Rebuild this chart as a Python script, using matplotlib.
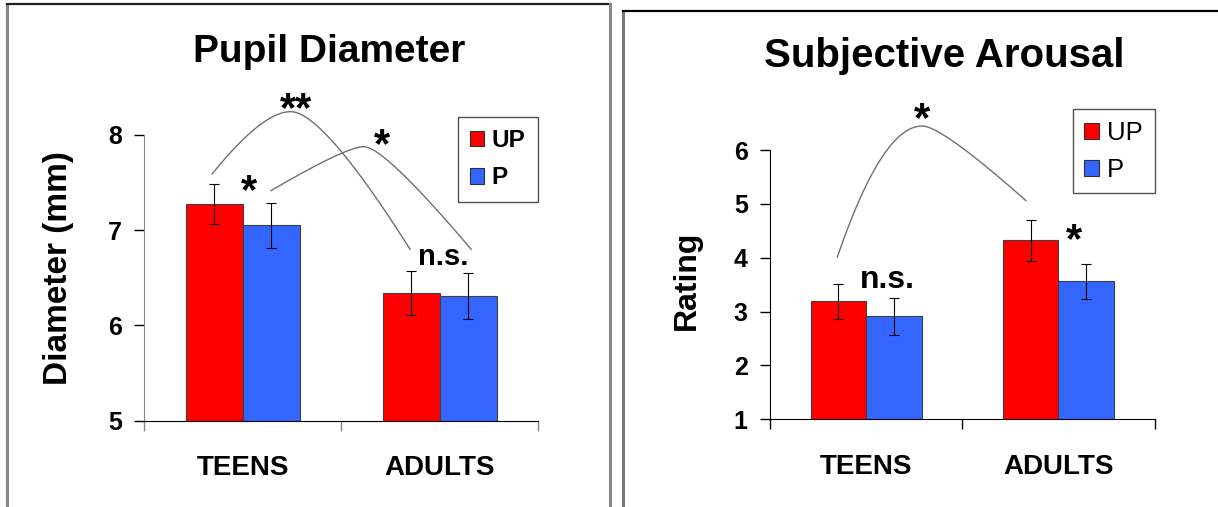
import numpy as np
import matplotlib.pyplot as plt
from matplotlib.lines import Line2D
from matplotlib.patches import Patch

plt.rcParams['font.family'] = ['Liberation Sans', 'DejaVu Sans']

groups = ['TEENS', 'ADULTS']
series = ['UP', 'P']
colors = ['#ff0000', '#3366ff']

# Pupil diameter (mm)
pupil_up = [7.28, 6.34]
pupil_p = [7.05, 6.31]
pupil_up_err = [0.21, 0.235]
pupil_p_err = [0.235, 0.245]

# Subjective arousal rating
arousal_up = [3.19, 4.32]
arousal_p = [2.91, 3.56]
arousal_up_err = [0.33, 0.375]
arousal_p_err = [0.34, 0.33]

W, H = 1218, 507
fig = plt.figure(figsize=(W / 100, H / 100), dpi=100)


def fx(px):
    return px / W


def fy(py):
    return 1 - py / H


def arc(ax, s, p, e, k1, k2):
    # two quadratic beziers: start -> peak -> end
    t = np.linspace(0, 1, 60)[:, None]
    s, p, e = np.array(s), np.array(p), np.array(e)
    c1 = np.array([s[0] + k1 * (p[0] - s[0]), p[1]])
    c2 = np.array([p[0] + k2 * (e[0] - p[0]), p[1]])
    a = (1 - t) ** 2 * s + 2 * (1 - t) * t * c1 + t ** 2 * p
    b = (1 - t) ** 2 * p + 2 * (1 - t) * t * c2 + t ** 2 * e
    pts = np.vstack([a, b])
    ax.plot(pts[:, 0], pts[:, 1], color='#707070', lw=1.0, clip_on=False, zorder=5)


def bar_panel(ax, up, p, up_err, p_err, ylim, spine_col, tick_size):
    x = np.arange(len(groups))
    w = 0.289
    ax.bar(x - w / 2, up, w, color=colors[0], edgecolor='#404040', linewidth=0.8, zorder=2)
    ax.bar(x + w / 2, p, w, color=colors[1], edgecolor='#404040', linewidth=0.8, zorder=2)
    ax.errorbar(x - w / 2, up, yerr=up_err, fmt='none', ecolor='black',
                elinewidth=0.8, capsize=3.5, capthick=0.8, zorder=3)
    ax.errorbar(x + w / 2, p, yerr=p_err, fmt='none', ecolor='black',
                elinewidth=0.8, capsize=3.5, capthick=0.8, zorder=3)
    ax.set_ylim(*ylim)
    ax.set_xlim(-0.5, 1.5)
    ax.set_yticks(np.arange(ylim[0], ylim[1] + 1))
    for sp in ['top', 'right']:
        ax.spines[sp].set_visible(False)
    ax.spines['left'].set_color(spine_col)
    ax.spines['bottom'].set_color('black')
    ax.tick_params(axis='y', direction='out', length=7, width=1, color='black',
                   pad=9, labelsize=tick_size)
    for lab in ax.get_yticklabels():
        lab.set_fontweight('bold')
    ax.set_xticks([-0.5, 0.5, 1.5])
    ax.set_xticklabels([])
    ax.set_xticks(x, minor=True)
    ax.set_xticklabels(groups, minor=True, fontsize=20, fontweight='bold')
    ax.tick_params(axis='x', which='major', direction='out', length=7, width=1, color=spine_col)
    ax.tick_params(axis='x', which='minor', length=0, pad=25)
    handles = [Patch(facecolor=colors[0], edgecolor='#303030', lw=0.8),
               Patch(facecolor=colors[1], edgecolor='#303030', lw=0.8)]
    return handles


# left panel
ax1 = fig.add_axes([fx(144.3), fy(420.7), fx(538.3) - fx(144.3), fy(135) - fy(420.7)])
h = bar_panel(ax1, pupil_up, pupil_p, pupil_up_err, pupil_p_err, (5, 8), '#888888', 18)
leg = ax1.legend(h, series, loc='upper right', bbox_to_anchor=(0.998, 1.064), borderaxespad=0,
                 fancybox=False, edgecolor='#505050', framealpha=1, handlelength=0.6,
                 handleheight=0.6, handletextpad=0.3, labelspacing=0.6, borderpad=0.5,
                 prop={'size': 17.5, 'weight': 'bold'})
leg.get_frame().set_linewidth(1.0)
arc(ax1, (-0.156, 7.59), (0.243, 8.245), (0.849, 6.80), 0.64, 0.27)
arc(ax1, (0.143, 7.415), (0.614, 7.877), (1.159, 6.80), 0.81, 0.19)
ax1.text(0.27, 8.15, '**', ha='center', va='baseline', fontsize=30, fontweight='bold', clip_on=False)
ax1.text(0.709, 7.765, '*', ha='center', va='baseline', fontsize=30, fontweight='bold', clip_on=False)
ax1.text(0.03, 7.29, '*', ha='center', va='baseline', fontsize=30, fontweight='bold')
ax1.text(1.02, 6.634, 'n.s.', ha='center', va='baseline', fontsize=21, fontweight='bold')
fig.text(fx(329), fy(52), 'Pupil Diameter', ha='center', va='center', fontsize=28, fontweight='bold')
fig.text(fx(58), fy(268), 'Diameter (mm)', ha='center', va='center', rotation=90,
         fontsize=24, fontweight='bold')

# right panel
ax2 = fig.add_axes([fx(770), fy(419.3), fx(1154.5) - fx(770), fy(150) - fy(419.3)])
h = bar_panel(ax2, arousal_up, arousal_p, arousal_up_err, arousal_p_err, (1, 6), 'black', 18)
leg = ax2.legend(h, series, loc='upper right', bbox_to_anchor=(1.0, 1.151), borderaxespad=0,
                 fancybox=False, edgecolor='#505050', framealpha=1, handlelength=0.6,
                 handleheight=0.6, handletextpad=0.3, labelspacing=0.5, borderpad=0.45,
                 prop={'size': 18.5})
leg.get_frame().set_linewidth(1.0)
arc(ax2, (-0.15, 4.01), (0.291, 6.445), (0.831, 5.06), 0.53, 0.19)
ax2.text(0.291, 6.35, '*', ha='center', va='baseline', fontsize=30, fontweight='bold', clip_on=False)
ax2.text(0.111, 3.434, 'n.s.', ha='center', va='baseline', fontsize=23, fontweight='bold')
ax2.text(1.082, 4.1, '*', ha='center', va='baseline', fontsize=30, fontweight='bold')
fig.text(fx(944), fy(56), 'Subjective Arousal', ha='center', va='center', fontsize=29, fontweight='bold')
fig.text(fx(687), fy(280), 'Rating', ha='center', va='center', rotation=90,
         fontsize=23, fontweight='bold')

# panel frames
frame_lines = [
    ((7, 7), (3.5, 507), '#888888', 2.2),
    ((7, 610), (3.5, 3.5), '#222222', 1.6),
    ((610, 610), (3.5, 507), '#888888', 2.2),
    ((622.5, 622.5), (10.7, 507), '#777777', 2.2),
    ((622.5, 1218), (10.7, 10.7), '#000000', 1.6),
]
for xs, ys, col, lw in frame_lines:
    fig.add_artist(Line2D([fx(v) for v in xs], [fy(v) for v in ys], color=col, lw=lw))

fig.savefig('out.png', dpi=100)
